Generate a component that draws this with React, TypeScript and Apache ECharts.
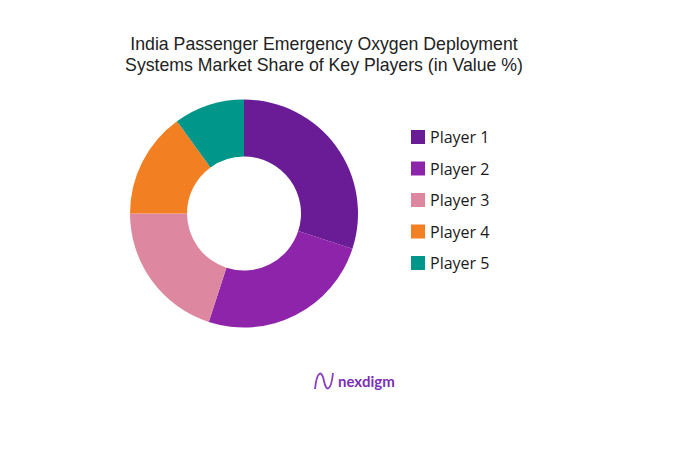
import * as echarts from 'echarts';
import React, { useEffect, useRef } from 'react';

const players = ['Player 1', 'Player 2', 'Player 3', 'Player 4', 'Player 5'];
const shares = [30, 25, 20, 15, 10];
const colors = ['#6a1b96', '#8e24aa', '#dd88a0', '#f27f22', '#00968a'];

const titleLines = [
  'India Passenger Emergency Oxygen Deployment',
  'Systems Market Share of Key Players (in Value %)',
];

// wavy "N" mark of the brand logo
echarts.graphic.registerShape(
  'logo',
  echarts.graphic.extendPath('M0 16 C2 -3 7 -3 9 8 C11 19 16 19 18 0', {}) as any,
);

export default function App(): React.ReactElement {
  const containerRef = useRef<HTMLDivElement>(null);

  useEffect(() => {
    if (!containerRef.current) {
      return;
    }

    const chart = echarts.init(containerRef.current, null, { renderer: 'svg' });

    chart.setOption({
      animation: false,
      backgroundColor: '#ffffff',
      color: colors,
      legend: {
        orient: 'vertical',
        left: 406,
        top: 124,
        itemWidth: 14,
        itemHeight: 14,
        itemGap: 15.5,
        icon: 'rect',
        data: players,
        textStyle: {
          fontFamily: 'Open Sans',
          fontSize: 16,
          lineHeight: 15.5,
          color: '#1a1a1a',
        },
      },
      graphic: [
        ...titleLines.map((text, i) => ({
          type: 'text',
          style: {
            text,
            x: 324,
            y: 44 + i * 20.5,
            align: 'center',
            verticalAlign: 'middle',
            font: '17.7px "Liberation Sans"',
            fill: '#222222',
          },
        })),
        {
          type: 'logo',
          x: 315,
          y: 373,
          style: { fill: 'none', stroke: '#8a3fc2', lineWidth: 1.8 },
        },
        {
          type: 'text',
          style: {
            text: 'nexdigm',
            x: 338,
            y: 381,
            verticalAlign: 'middle',
            font: 'bold 15px Lato',
            fill: '#7a2fb5',
          },
        },
      ],
      series: [
        {
          type: 'pie',
          center: [244, 213.5],
          radius: [57, 114],
          startAngle: 90,
          clockwise: true,
          label: { show: false },
          labelLine: { show: false },
          emphasis: { disabled: true },
          data: players.map((name, i) => ({ name, value: shares[i] })),
        },
      ],
    });

    return () => {
      chart.dispose();
    };
  }, []);

  return (
    <div
      ref={containerRef}
      style={{ position: 'fixed', left: 0, top: 0, width: 700, height: 457 }}
    />
  );
}
